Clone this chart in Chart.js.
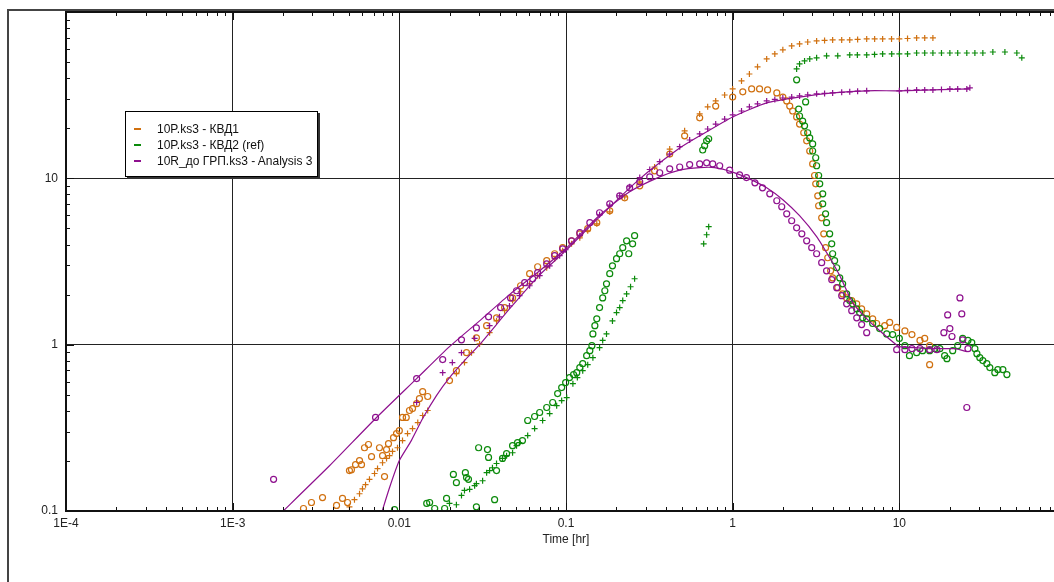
<!DOCTYPE html>
<html>
<head>
<meta charset="utf-8">
<script src="https://cdn.jsdelivr.net/npm/chart.js@4/dist/chart.umd.min.js"></script>
<style>
  html, body { margin: 0; padding: 0; overflow: hidden; background: #fff; }
  #wrap { position: relative; width: 1054px; height: 582px; overflow: hidden; }
  #chart { position: absolute; left: 0; top: 0; }
  #legend {
    position: absolute; left: 125px; top: 111px; width: 191px; height: 64px;
    border: 1px solid #000; background: #fff; box-shadow: 2px 2px 0 #333;
    font: 12px "Liberation Sans", Arial, sans-serif; color: #111;
  }
  #legend .row { position: absolute; left: 0; height: 14px; line-height: 14px; white-space: nowrap; }
  #legend .sw { position: absolute; left: 8px; top: 6px; width: 7px; height: 2px; }
  #legend .tx { position: absolute; left: 31px; top: 0; }
</style>
</head>
<body>
<div id="wrap">
  <canvas id="chart" width="1080" height="582"></canvas>
  <div id="legend"></div>
</div>
<script>
// tick labels
const xTickValues = [1e-4, 1e-3, 0.01, 0.1, 1, 10, 100];
const xTickLabels = ['1E-4', '1E-3', '0.01', '0.1', '1', '10', '100'];
const yTickValues = [0.1, 1, 10, 100];
const yTickLabels = ['0.1', '1', '10', ''];

const seriesNames = ['10P.ks3 - КВД1', '10P.ks3 - КВД2 (ref)', '10R_до ГРП.ks3 - Analysis 3'];
const seriesColors = ['#D0700F', '#0A8A0A', '#8E108E'];

// [time hr, value]
const kvd1Pressure = [
  [0.00502, 0.106], [0.00538, 0.117], [0.00577, 0.127], [0.00601, 0.136], [0.00627, 0.144],
  [0.00662, 0.155], [0.0071, 0.168], [0.0074, 0.18], [0.00793, 0.195], [0.00838, 0.207],
  [0.00873, 0.215], [0.0091, 0.228], [0.00975, 0.24], [0.01045, 0.265], [0.0112, 0.292],
  [0.012, 0.313], [0.0129, 0.34], [0.0138, 0.375], [0.0148, 0.402],
  [0.022, 0.67], [0.0246, 0.78], [0.0271, 0.895], [0.0303, 1.01], [0.0348, 1.18],
  [0.0383, 1.39], [0.0428, 1.6], [0.0478, 1.84], [0.0534, 2.08], [0.0605, 2.32],
  [0.0676, 2.6], [0.0766, 2.9], [0.0855, 3.29], [0.0955, 3.67], [0.108, 4.04],
  [0.121, 4.39], [0.135, 4.84], [0.153, 5.33], [0.183, 6.29], [0.225, 7.74],
  [0.277, 9.53], [0.34, 11.7], [0.419, 15.0], [0.515, 19.3], [0.634, 24.4],
  [0.708, 26.9], [0.791, 29.2], [0.895, 31.7], [1.0, 34.5], [1.13, 38.5],
  [1.26, 42.4], [1.41, 46.8], [1.6, 52.2], [1.79, 56.0], [2.0, 59.2],
  [2.26, 62.5], [2.52, 64.3], [2.82, 66.0], [3.19, 67.0], [3.56, 67.5],
  [3.98, 67.9], [4.51, 67.9], [5.04, 67.9], [5.62, 68.4], [6.37, 68.9],
  [7.11, 68.9], [7.94, 68.9], [8.98, 68.9], [10.0, 68.9], [11.2, 69.3],
  [12.7, 69.8], [14.2, 69.8], [15.9, 69.8]
];
const kvd1Deriv = [
  [0.00266, 0.1035], [0.00297, 0.1125], [0.00346, 0.1205], [0.0042, 0.108], [0.00456, 0.119],
  [0.00489, 0.1125], [0.00502, 0.175], [0.00516, 0.177], [0.00546, 0.19], [0.00577, 0.201],
  [0.00593, 0.19], [0.00618, 0.24], [0.00653, 0.251], [0.00681, 0.212], [0.0076, 0.24],
  [0.00793, 0.215], [0.00815, 0.161], [0.00838, 0.234], [0.00861, 0.254], [0.00923, 0.276],
  [0.00962, 0.292], [0.01, 0.304], [0.01045, 0.365], [0.011, 0.365], [0.0115, 0.402],
  [0.012, 0.413], [0.0127, 0.442], [0.0132, 0.474], [0.0138, 0.522], [0.0148, 0.488],
  [0.02, 0.608], [0.022, 0.698], [0.0253, 0.895], [0.029, 1.1], [0.0334, 1.3],
  [0.0383, 1.45], [0.0428, 1.67], [0.0478, 1.91], [0.0534, 2.26], [0.0605, 2.67],
  [0.0676, 2.94], [0.0766, 3.2], [0.0855, 3.52], [0.0955, 3.83], [0.108, 4.21],
  [0.121, 4.64], [0.135, 4.98], [0.153, 5.41], [0.183, 6.38], [0.225, 7.64],
  [0.277, 9.02], [0.34, 11.1], [0.419, 14.0], [0.515, 18.0], [0.634, 23.1],
  [0.791, 27.2], [1.0, 30.8], [1.15, 33.1], [1.3, 34.5], [1.45, 34.5],
  [1.62, 34.0], [1.84, 32.6], [2.0, 30.8], [2.11, 29.2], [2.2, 27.2],
  [2.29, 25.4], [2.42, 23.4], [2.52, 21.2], [2.67, 18.8], [2.78, 16.8],
  [2.9, 14.6], [3.02, 12.2], [3.1, 10.4], [3.15, 9.27], [3.24, 7.85],
  [3.28, 6.84], [3.42, 5.79], [3.52, 4.64], [3.61, 3.83], [3.72, 3.33],
  [3.87, 2.78], [3.98, 2.52], [4.27, 2.2], [4.57, 2.02], [4.83, 1.91],
  [5.18, 1.84], [5.55, 1.76], [5.94, 1.64], [6.37, 1.53], [6.92, 1.43],
  [7.31, 1.34], [8.17, 1.3], [8.75, 1.36], [9.64, 1.27], [10.8, 1.21],
  [11.9, 1.15], [13.3, 1.06], [14.2, 1.09], [15.2, 0.986], [15.2, 0.758]
];
const kvd2Pressure = [
  [0.02, 0.111], [0.022, 0.109], [0.0236, 0.124], [0.0246, 0.133], [0.0264, 0.135],
  [0.0283, 0.142], [0.029, 0.146], [0.0316, 0.152], [0.0334, 0.17], [0.0348, 0.175],
  [0.0362, 0.182], [0.0383, 0.193], [0.0416, 0.207], [0.044, 0.215], [0.0478, 0.224],
  [0.0505, 0.247], [0.0526, 0.258], [0.0589, 0.284], [0.0648, 0.313], [0.0724, 0.35],
  [0.0798, 0.385], [0.0879, 0.43], [0.0942, 0.461], [0.101, 0.481], [0.11, 0.583],
  [0.117, 0.634], [0.126, 0.698], [0.135, 0.758], [0.145, 0.835], [0.159, 0.959],
  [0.166, 1.06], [0.175, 1.16], [0.19, 1.39], [0.201, 1.56], [0.21, 1.67],
  [0.219, 1.84], [0.231, 2.02], [0.244, 2.23], [0.258, 2.49],
  [0.67, 4.04], [0.698, 4.58], [0.718, 5.12],
  [2.42, 45.5], [2.52, 48.7], [2.7, 50.8], [2.9, 52.2], [3.19, 53.0],
  [3.66, 54.5], [4.27, 54.5], [5.04, 55.2], [5.6, 55.2], [6.37, 55.2],
  [7.1, 55.6], [7.94, 56.0], [9.0, 56.0], [10.0, 56.0], [11.2, 56.0],
  [12.7, 56.7], [14.2, 56.7], [15.9, 56.7], [17.9, 56.7], [20.1, 56.7],
  [22.4, 56.7], [25.4, 56.7], [28.4, 56.7], [31.7, 56.7], [36.4, 57.5],
  [43.0, 57.5], [50.7, 56.7], [54.3, 53.0]
];
const kvd2Deriv = [
  [0.00936, 0.102], [0.0146, 0.111], [0.0152, 0.1125], [0.0163, 0.1035], [0.0187, 0.1035],
  [0.0192, 0.119], [0.0211, 0.166], [0.022, 0.148], [0.0249, 0.17], [0.0253, 0.159],
  [0.026, 0.155], [0.029, 0.106], [0.0299, 0.24], [0.0338, 0.234], [0.0343, 0.21],
  [0.0373, 0.117], [0.0383, 0.175], [0.0416, 0.207], [0.044, 0.221], [0.0478, 0.247],
  [0.0512, 0.258], [0.0548, 0.265], [0.0589, 0.35], [0.0648, 0.37], [0.0695, 0.391],
  [0.0766, 0.419], [0.0832, 0.449], [0.0891, 0.508], [0.0942, 0.552], [0.0995, 0.592],
  [0.105, 0.634], [0.111, 0.661], [0.116, 0.679], [0.121, 0.728], [0.126, 0.769],
  [0.133, 0.859], [0.139, 0.92], [0.143, 0.986], [0.145, 1.16], [0.149, 1.3],
  [0.153, 1.43], [0.159, 1.67], [0.166, 1.91], [0.171, 2.11], [0.175, 2.32],
  [0.183, 2.67], [0.19, 2.98], [0.201, 3.29], [0.21, 3.52], [0.219, 3.83],
  [0.231, 4.21], [0.238, 3.52], [0.251, 4.04], [0.258, 4.52],
  [0.661, 14.8], [0.679, 15.7], [0.698, 16.8], [0.718, 17.3],
  [2.42, 39.1], [2.49, 26.1], [2.74, 28.8], [2.52, 23.7], [2.63, 22.1],
  [2.7, 20.7], [2.82, 18.8], [2.9, 17.5], [3.02, 16.1], [3.02, 14.6],
  [3.15, 13.3], [3.19, 11.9], [3.28, 10.4], [3.33, 9.27], [3.47, 8.07],
  [3.47, 7.03], [3.61, 6.12], [3.66, 5.41], [3.82, 4.64], [3.93, 4.04],
  [3.98, 3.52], [4.09, 3.2], [4.21, 2.9], [4.39, 2.52], [4.57, 2.32],
  [4.83, 2.02], [5.04, 1.84], [5.25, 1.76], [5.55, 1.64], [5.78, 1.56],
  [6.03, 1.45], [6.37, 1.43], [6.92, 1.34], [7.62, 1.25], [8.4, 1.16],
  [9.12, 1.15], [10.0, 1.09], [10.8, 0.986], [11.5, 0.859], [12.7, 0.895],
  [13.8, 0.92], [15.2, 0.92], [16.3, 0.946], [17.5, 0.946], [18.7, 0.859],
  [19.3, 0.824], [20.9, 0.92], [22.4, 0.986], [24.0, 1.09], [25.8, 1.06],
  [27.2, 1.03], [28.4, 0.946], [29.2, 0.883], [30.4, 0.835], [31.7, 0.802],
  [33.5, 0.769], [34.9, 0.728], [37.4, 0.679], [39.0, 0.708], [41.8, 0.708],
  [44.2, 0.661]
];
const an3Pressure = [
  [0.0127, 0.449], [0.0182, 0.679], [0.0208, 0.78], [0.0236, 0.895], [0.0283, 1.09],
  [0.0348, 1.3], [0.0399, 1.47], [0.0458, 1.71], [0.0526, 1.97], [0.0605, 2.26],
  [0.0695, 2.6], [0.0798, 2.98], [0.0916, 3.43], [0.0995, 3.72], [0.121, 4.52],
  [0.159, 6.04], [0.183, 6.9], [0.21, 7.85], [0.241, 8.9], [0.277, 10.1],
  [0.318, 11.3], [0.365, 12.6], [0.419, 14.0], [0.481, 15.5], [0.552, 17.0],
  [0.634, 18.5], [0.708, 19.8], [0.791, 21.2], [0.895, 22.7], [1.0, 24.1],
  [1.13, 25.4], [1.26, 26.9], [1.41, 28.0], [1.6, 29.2], [1.79, 29.8],
  [2.0, 30.4], [2.26, 30.8], [2.52, 31.3], [2.82, 31.8], [3.19, 32.2],
  [3.56, 32.4], [3.98, 32.6], [4.51, 32.9], [5.04, 33.1], [5.62, 33.4],
  [6.37, 33.6], [10.0, 33.6], [11.2, 33.8], [12.7, 34.0], [14.2, 34.0],
  [15.9, 34.0], [17.9, 34.2], [20.1, 34.5], [22.4, 34.5], [25.4, 34.5],
  [26.5, 35.0]
];
const an3Deriv = [
  [0.00176, 0.155], [0.0072, 0.365], [0.0127, 0.625], [0.0182, 0.813], [0.0236, 1.07],
  [0.029, 1.26], [0.0343, 1.47], [0.0405, 1.67], [0.0465, 1.91], [0.0505, 2.11],
  [0.0565, 2.36], [0.0631, 2.49], [0.0676, 2.71], [0.0766, 3.06], [0.0855, 3.43],
  [0.0955, 3.77], [0.108, 4.21], [0.121, 4.71], [0.139, 5.41], [0.159, 6.21],
  [0.183, 7.03], [0.21, 7.85], [0.241, 8.77], [0.277, 9.53], [0.318, 10.2],
  [0.365, 10.8], [0.419, 11.4], [0.481, 11.7], [0.552, 12.1], [0.634, 12.2],
  [0.698, 12.4], [0.759, 12.2], [0.836, 11.9], [0.959, 11.2], [1.1, 10.5],
  [1.21, 10.1], [1.36, 9.4], [1.51, 8.77], [1.67, 8.07], [1.84, 7.33],
  [1.97, 6.75], [2.11, 6.12], [2.26, 5.56], [2.42, 5.04], [2.6, 4.64],
  [2.78, 4.21], [2.98, 3.83], [3.19, 3.52], [3.42, 3.11], [3.66, 2.78],
  [3.93, 2.46], [4.21, 2.2], [4.51, 1.97], [4.83, 1.76], [5.18, 1.6],
  [5.55, 1.45], [5.94, 1.32], [6.37, 1.18],
  [9.64, 0.933], [10.8, 0.933], [11.9, 0.946], [13.3, 0.946], [15.2, 0.933],
  [16.8, 0.933], [18.5, 1.18], [19.5, 1.51], [20.1, 1.25], [20.7, 1.12],
  [23.1, 1.91], [23.7, 1.53], [24.0, 1.07], [25.8, 0.946], [25.4, 0.419]
];
const an3PressureModel = [
  [0.00771, 0.0927], [0.00873, 0.138], [0.01, 0.201], [0.0118, 0.265], [0.0138, 0.36],
  [0.0167, 0.494], [0.02, 0.634], [0.0246, 0.802], [0.0303, 1.0], [0.0458, 1.64],
  [0.0695, 2.63], [0.0995, 3.67], [0.159, 5.87], [0.277, 9.93], [0.481, 15.2],
  [0.634, 18.0], [1.0, 23.4], [1.6, 28.4], [2.52, 30.8], [3.98, 32.6],
  [6.37, 33.6], [10.0, 33.6], [15.9, 34.0], [26.5, 34.5]
];
const an3DerivModel = [
  [0.00186, 0.0927], [0.00381, 0.187], [0.0072, 0.36], [0.0127, 0.625], [0.02, 0.973],
  [0.0303, 1.39], [0.0458, 2.0], [0.0695, 2.78], [0.0995, 3.77], [0.159, 6.0],
  [0.241, 8.3], [0.365, 10.2], [0.481, 11.2], [0.634, 11.6], [0.78, 11.6],
  [1.0, 10.9], [1.26, 9.93], [1.6, 8.77], [2.0, 7.43], [2.52, 5.96],
  [3.19, 4.46], [3.82, 3.33], [4.39, 2.6], [5.25, 1.79], [6.2, 1.47],
  [7.31, 1.26], [9.12, 1.04], [10.0, 0.973], [12.4, 0.959], [16.3, 0.946],
  [21.5, 0.946], [25.4, 0.908]
];

const FONT = '"Liberation Sans", Arial, sans-serif';

function toPoints(rows) {
  return rows.map(r => ({ x: r[0], y: r[1] }));
}

function markers(rows, color, style) {
  return {
    data: toPoints(rows),
    showLine: false,
    pointStyle: style,
    pointRadius: 3,
    pointBorderWidth: 1.2,
    pointBorderColor: color,
    pointBackgroundColor: 'rgba(0,0,0,0)',
    borderColor: color,
  };
}

function modelLine(rows, color) {
  return {
    data: toPoints(rows),
    showLine: true,
    pointRadius: 0,
    borderWidth: 1.2,
    borderColor: color,
    tension: 0.2,
    fill: false,
  };
}

// outer frame, plot border and inward ticks
const framePlugin = {
  id: 'frame',
  beforeDraw(chart) {
    const ctx = chart.ctx;
    ctx.save();
    ctx.strokeStyle = '#444';
    ctx.lineWidth = 2;
    ctx.beginPath();
    ctx.moveTo(8, 600);
    ctx.lineTo(8, 10);
    ctx.lineTo(1100, 10);
    ctx.stroke();
    ctx.restore();
  },
  afterDraw(chart) {
    const { ctx, chartArea: a, scales } = chart;
    ctx.save();
    ctx.strokeStyle = '#111';
    ctx.lineWidth = 2;
    ctx.strokeRect(a.left, a.top, a.right - a.left, a.bottom - a.top);
    ctx.lineWidth = 1;
    ctx.beginPath();
    for (let d = -4; d <= 1; d++) {
      for (let m = 1; m <= 9; m++) {
        const px = Math.round(scales.x.getPixelForValue(m * Math.pow(10, d))) + 0.5;
        const len = m === 1 ? 8 : 4;
        ctx.moveTo(px, a.bottom); ctx.lineTo(px, a.bottom - len);
        ctx.moveTo(px, a.top); ctx.lineTo(px, a.top + len);
      }
    }
    for (let d = -1; d <= 1; d++) {
      for (let m = 1; m <= 9; m++) {
        const py = Math.round(scales.y.getPixelForValue(m * Math.pow(10, d))) + 0.5;
        const len = m === 1 ? 8 : 4;
        ctx.moveTo(a.left, py); ctx.lineTo(a.left + len, py);
      }
    }
    ctx.stroke();
    ctx.restore();
  }
};

const datasets = [
  modelLine(an3DerivModel, seriesColors[2]),
  modelLine(an3PressureModel, seriesColors[2]),
  markers(an3Pressure, seriesColors[2], 'cross'),
  markers(an3Deriv, seriesColors[2], 'circle'),
  markers(kvd2Pressure, seriesColors[1], 'cross'),
  markers(kvd2Deriv, seriesColors[1], 'circle'),
  markers(kvd1Pressure, seriesColors[0], 'cross'),
  markers(kvd1Deriv, seriesColors[0], 'circle'),
];

new Chart(document.getElementById('chart'), {
  type: 'scatter',
  data: { datasets },
  options: {
    responsive: false,
    animation: false,
    events: [],
    layout: { padding: { left: 0, top: 12, right: 14, bottom: 0 } },
    plugins: { legend: { display: false }, tooltip: { enabled: false } },
    scales: {
      x: {
        type: 'logarithmic',
        position: 'bottom',
        min: 1e-4,
        max: 100,
        afterBuildTicks(scale) {
          scale.ticks = xTickValues.map(v => ({ value: v }));
        },
        afterFit(scale) {
          scale.height = 71;
          scale.paddingLeft = 0;
          scale.paddingRight = 0;
        },
        ticks: {
          autoSkip: false,
          maxRotation: 0,
          padding: 5,
          color: '#222',
          font: { family: FONT, size: 12 },
          callback: (value, index) => xTickLabels[index],
        },
        grid: { color: '#222', lineWidth: 1, drawTicks: false },
        border: { display: false },
        title: {
          display: true,
          text: 'Time [hr]',
          color: '#222',
          font: { family: FONT, size: 12 },
          padding: { top: 0, bottom: 35 },
        },
      },
      y: {
        type: 'logarithmic',
        min: 0.1,
        max: 100,
        afterBuildTicks(scale) {
          scale.ticks = yTickValues.map(v => ({ value: v }));
        },
        afterFit(scale) {
          scale.width = 66;
          scale.paddingTop = 0;
          scale.paddingBottom = 0;
        },
        ticks: {
          autoSkip: false,
          padding: 8,
          color: '#222',
          font: { family: FONT, size: 12 },
          callback: (value, index) => yTickLabels[index],
        },
        grid: { color: '#222', lineWidth: 1, drawTicks: false },
        border: { display: false },
      },
    },
  },
  plugins: [framePlugin],
});

// legend built from the series names
const legend = document.getElementById('legend');
seriesNames.forEach((name, i) => {
  const row = document.createElement('div');
  row.className = 'row';
  row.style.top = (10 + i * 16) + 'px';
  const sw = document.createElement('span');
  sw.className = 'sw';
  sw.style.background = seriesColors[i];
  const tx = document.createElement('span');
  tx.className = 'tx';
  tx.textContent = name;
  row.appendChild(sw);
  row.appendChild(tx);
  legend.appendChild(row);
});
</script>
</body>
</html>
